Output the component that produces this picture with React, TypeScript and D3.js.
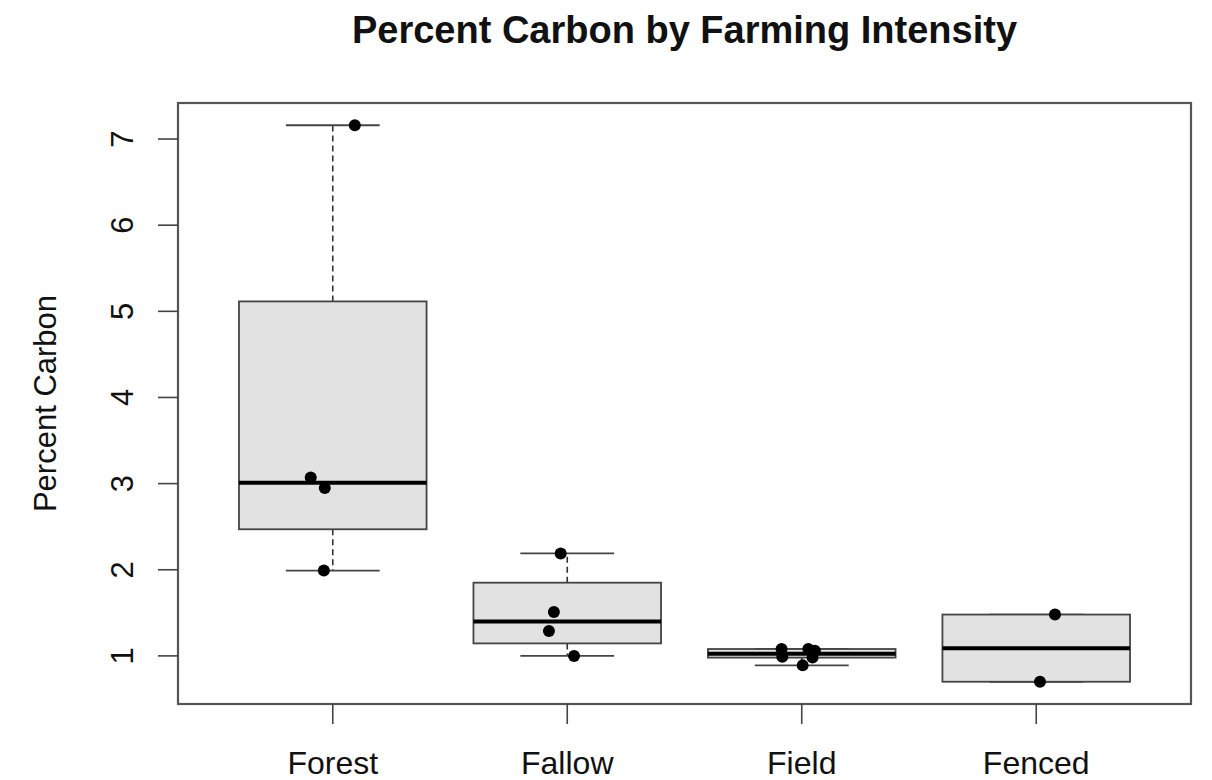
import React from "react";
import * as d3 from "d3";

// Farming intensity groups and the percent-carbon readings in each
const categories = ["Forest", "Fallow", "Field", "Fenced"];
const forestValues = [7.16, 3.07, 2.95, 1.99];
const fallowValues = [2.19, 1.51, 1.29, 1.0];
const fieldValues = [1.08, 0.99, 1.08, 1.06, 0.98, 0.89];
const fencedValues = [1.48, 0.7];
// horizontal jitter of each point, in category units
const forestJitter = [0.094, -0.094, -0.034, -0.038];
const fallowJitter = [-0.028, -0.057, -0.078, 0.029];
const fieldJitter = [-0.086, -0.083, 0.028, 0.056, 0.046, 0.004];
const fencedJitter = [0.08, 0.016];
const yTicks = [1, 2, 3, 4, 5, 6, 7];

const title = "Percent Carbon by Farming Intensity";
const yLabel = "Percent Carbon";

const groups = [
  { values: forestValues, jitter: forestJitter },
  { values: fallowValues, jitter: fallowJitter },
  { values: fieldValues, jitter: fieldJitter },
  { values: fencedValues, jitter: fencedJitter },
];

// Tukey five-number summary (as used by R's boxplot)
function fivenum(vals: number[]) {
  const x = [...vals].sort((a, b) => a - b);
  const n = x.length;
  const n4 = Math.floor((n + 3) / 2) / 2;
  const d = [1, n4, (n + 1) / 2, n + 1 - n4, n];
  return d.map((p) => 0.5 * (x[Math.floor(p) - 1] + x[Math.ceil(p) - 1]));
}

function boxStats(vals: number[]) {
  const [, q1, med, q3] = fivenum(vals);
  const iqr = q3 - q1;
  const lo = q1 - 1.5 * iqr;
  const hi = q3 + 1.5 * iqr;
  const inside = vals.filter((v) => v >= lo && v <= hi);
  return { q1, med, q3, wLo: d3.min(inside)!, wHi: d3.max(inside)! };
}

const W = 1212;
const H = 780;
const plot = { left: 178, right: 1191, top: 103, bottom: 704 };
const FONT = "'Liberation Sans', Arial, Helvetica, sans-serif";

export default function App() {
  const all = groups.flatMap((g) => g.values);
  const [dMin, dMax] = d3.extent(all) as [number, number];
  const yPad = (dMax - dMin) * 0.04;
  const y = d3
    .scaleLinear()
    .domain([dMin - yPad, dMax + yPad])
    .range([plot.bottom, plot.top]);

  // category axis spans 0.5 .. n+0.5, widened by 4% on each side
  const n = categories.length;
  const xPad = n * 0.04;
  const x = d3
    .scaleLinear()
    .domain([0.5 - xPad, n + 0.5 + xPad])
    .range([plot.left, plot.right]);

  const unit = x(1) - x(0);
  const boxHalf = unit * 0.4;
  const stapleHalf = boxHalf * 0.5;
  const cx = (plot.left + plot.right) / 2;
  const cy = (plot.top + plot.bottom) / 2;

  return (
    <svg
      width={W}
      height={H}
      style={{ position: "absolute", left: 0, top: 0, background: "#fff" }}
      fontFamily={FONT}
    >
      <rect x={0} y={0} width={W} height={H} fill="#fff" />
      <text x={cx} y={43} textAnchor="middle" fontSize={38} fontWeight="bold" fill="#111">
        {title}
      </text>

      {groups.map((g, i) => {
        const s = boxStats(g.values);
        const c = x(i + 1);
        return (
          <g key={categories[i]}>
            {/* whiskers */}
            <line x1={c} x2={c} y1={y(s.q3)} y2={y(s.wHi)} stroke="#333" strokeWidth={1.6} strokeDasharray="6,4" />
            <line x1={c} x2={c} y1={y(s.q1)} y2={y(s.wLo)} stroke="#333" strokeWidth={1.6} strokeDasharray="6,4" />
            <line x1={c - stapleHalf} x2={c + stapleHalf} y1={y(s.wHi)} y2={y(s.wHi)} stroke="#444" strokeWidth={1.8} />
            <line x1={c - stapleHalf} x2={c + stapleHalf} y1={y(s.wLo)} y2={y(s.wLo)} stroke="#444" strokeWidth={1.8} />
            {/* box */}
            <rect
              x={c - boxHalf}
              y={y(s.q3)}
              width={boxHalf * 2}
              height={y(s.q1) - y(s.q3)}
              fill="#e2e2e2"
              stroke="#444"
              strokeWidth={1.8}
            />
            <line x1={c - boxHalf} x2={c + boxHalf} y1={y(s.med)} y2={y(s.med)} stroke="#000" strokeWidth={4} />
          </g>
        );
      })}

      {groups.map((g, i) =>
        g.values.map((v, j) => (
          <circle key={`${i}-${j}`} cx={x(i + 1 + g.jitter[j])} cy={y(v)} r={6} fill="#000" />
        ))
      )}

      {/* frame */}
      <rect
        x={plot.left}
        y={plot.top}
        width={plot.right - plot.left}
        height={plot.bottom - plot.top}
        fill="none"
        stroke="#555"
        strokeWidth={2.2}
      />

      {/* y axis */}
      {yTicks.map((t) => (
        <g key={t}>
          <line x1={plot.left - 20} x2={plot.left} y1={y(t)} y2={y(t)} stroke="#444" strokeWidth={1.6} />
          <text
            transform={`translate(${133},${y(t)}) rotate(-90)`}
            textAnchor="middle"
            fontSize={31}
            fill="#111"
          >
            {t}
          </text>
        </g>
      ))}
      <text transform={`translate(${56},${cy}) rotate(-90)`} textAnchor="middle" fontSize={31} fill="#111">
        {yLabel}
      </text>

      {/* x axis */}
      {categories.map((c, i) => (
        <g key={c}>
          <line x1={x(i + 1)} x2={x(i + 1)} y1={plot.bottom} y2={plot.bottom + 20} stroke="#444" strokeWidth={1.6} />
          <text x={x(i + 1)} y={774} textAnchor="middle" fontSize={32} fill="#111">
            {c}
          </text>
        </g>
      ))}
    </svg>
  );
}
